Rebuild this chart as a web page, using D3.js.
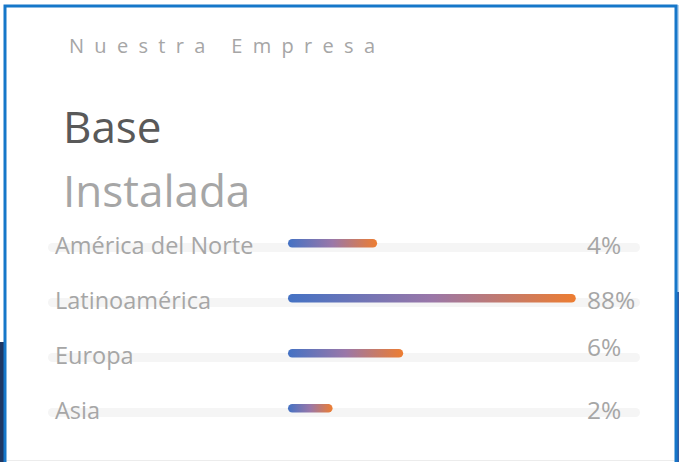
<!DOCTYPE html>
<html>
<head>
<meta charset="utf-8">
<script src="https://cdn.jsdelivr.net/npm/d3@7"></script>
<style>
  html, body { margin: 0; padding: 0; background: #fff; }
  svg { display: block; font-family: "Open Sans", "Noto Sans", sans-serif; }
</style>
</head>
<body>
<div id="chart"></div>
<script>
// Base instalada por región
const regions = ["América del Norte", "Latinoamérica", "Europa", "Asia"];
const shares = [4, 88, 6, 2];
const shareLabels = ["4%", "88%", "6%", "2%"];

const W = 679, H = 462;

const svg = d3.select("#chart")
    .append("svg")
    .attr("width", W)
    .attr("height", H);

// gradient for bars
const defs = svg.append("defs");
const grad = defs.append("linearGradient")
    .attr("id", "barGrad")
    .attr("x1", "0%").attr("x2", "100%")
    .attr("y1", "0%").attr("y2", "0%");
grad.append("stop").attr("offset", "0%").attr("stop-color", "#4472c4");
grad.append("stop").attr("offset", "50%").attr("stop-color", "#9a77a8");
grad.append("stop").attr("offset", "100%").attr("stop-color", "#ed7d31");

// frame decorations
svg.append("rect").attr("x", 0).attr("y", 342).attr("width", 4).attr("height", H - 342).attr("fill", "#203864");
svg.append("rect").attr("x", 677).attr("y", 5).attr("width", 2).attr("height", 287).attr("fill", "#bdd7ee");
svg.append("rect").attr("x", 677).attr("y", 292).attr("width", 2).attr("height", H - 292).attr("fill", "#2e5fa8");
svg.append("line").attr("x1", 5).attr("x2", 676).attr("y1", 460.5).attr("y2", 460.5)
    .attr("stroke", "#ececec").attr("stroke-width", 1);
svg.append("path")
    .attr("d", `M5,${H} V6 H676 V${H}`)
    .attr("fill", "none")
    .attr("stroke", "#1677c9")
    .attr("stroke-width", 3);

// titles
svg.append("text")
    .attr("x", 69).attr("y", 53)
    .attr("font-size", 20)
    .attr("fill", "#a6a6a6")
    .attr("textLength", 306)
    .attr("lengthAdjust", "spacing")
    .text("Nuestra Empresa");

svg.append("text")
    .attr("x", 63).attr("y", 143)
    .attr("font-size", 44)
    .attr("fill", "#595959")
    .text("Base");

svg.append("text")
    .attr("x", 63).attr("y", 207)
    .attr("font-size", 44)
    .attr("fill", "#a6a6a6")
    .text("Instalada");

// scales
const y = d3.scalePoint()
    .domain(regions)
    .range([247.5, 412.5]);

const x = d3.scaleLog()
    .domain([1, 100])
    .range([288, 584]);

const rows = regions.map((r, i) => ({ region: r, value: shares[i], label: shareLabels[i] }));

const row = svg.selectAll(".row")
    .data(rows)
    .enter()
    .append("g")
    .attr("class", "row")
    .attr("transform", d => `translate(0,${y(d.region)})`);

// background track
row.append("rect")
    .attr("x", 48)
    .attr("y", -4.5)
    .attr("width", 592)
    .attr("height", 9)
    .attr("rx", 4.5)
    .attr("fill", "#f5f5f5");

// labels
row.append("text")
    .attr("x", 55)
    .attr("y", 6)
    .attr("font-size", 23.5)
    .attr("fill", "#a6a6a6")
    .text(d => d.region);

// bars
row.append("rect")
    .attr("x", x(1))
    .attr("y", -8.5)
    .attr("width", d => x(d.value) - x(1))
    .attr("height", 8.5)
    .attr("rx", 4.25)
    .attr("fill", "url(#barGrad)");

// percentages
row.append("text")
    .attr("x", 587)
    .attr("y", (d, i) => i === 2 ? -2 : 6)
    .attr("font-size", 24.5)
    .attr("fill", "#a6a6a6")
    .text(d => d.label);
</script>
</body>
</html>
